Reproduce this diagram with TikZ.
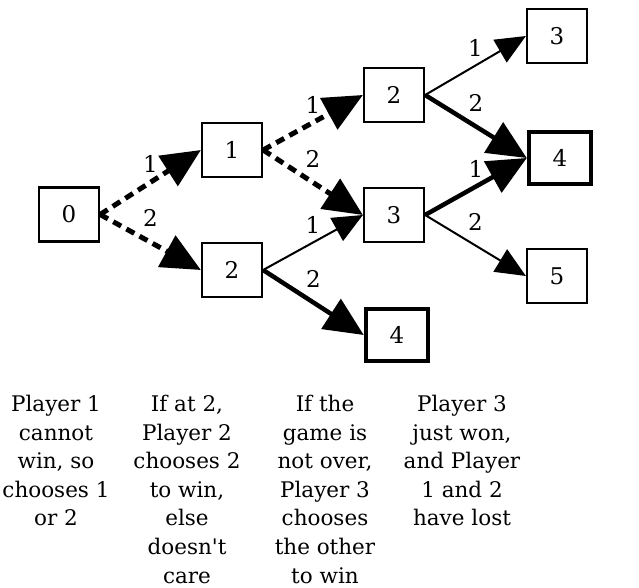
\documentclass[tikz,border=0pt]{standalone}
\usepackage{fontspec}
\setmainfont{DejaVu Serif}
\usetikzlibrary{arrows.meta}
\begin{document}
\begin{tikzpicture}[x=1pt,y=-1pt,
  every node/.style={font=\fontsize{23}{28.6}\selectfont},
  state/.style={draw,line width=2.2pt,minimum width=60pt,minimum height=54pt,inner sep=0pt},
  final/.style={state,line width=4.5pt,minimum width=62pt,minimum height=52pt},
  bigtip/.style={-{Triangle[length=39pt,width=35pt]}},
  smalltip/.style={-{Triangle[length=30pt,width=26pt]}},
  guess/.style={bigtip,line width=5pt,dash pattern=on 9pt off 6pt},
  strong/.style={bigtip,line width=4.5pt},
  weak/.style={smalltip,line width=2pt},
  lup/.style={midway,yshift=18pt,inner sep=0pt},
  ldown/.style={midway,yshift=24pt,inner sep=0pt},
  note/.style={align=center,anchor=north,inner sep=0pt,font=\fontsize{21.5}{28.6}\selectfont}]
\useasboundingbox (0,0) rectangle (639,588);

% game states
\node[state] (s0) at (69,214.5) {0};
\node[state] (a1) at (232,150) {1};
\node[state] (a2) at (232,270) {2};
\node[state] (b2) at (394,95) {2};
\node[state] (b3) at (394,215) {3};
\node[final] (b4) at (397,335) {4};
\node[state] (c3) at (557,36) {3};
\node[final] (c4) at (560,158) {4};
\node[state] (c5) at (557,276) {5};

% moves of player 1
\draw[guess] (s0.east) -- (a1.west) node[lup] {1};
\draw[guess] (s0.east) -- (a2.west) node[ldown] {2};
% moves of player 2
\draw[guess] (a1.east) -- (b2.west) node[lup] {1};
\draw[guess] (a1.east) -- (b3.west) node[ldown] {2};
\draw[weak] (a2.east) -- (b3.west) node[lup] {1};
\draw[strong] (a2.east) -- (b4.west) node[ldown] {2};
% moves of player 3
\draw[weak] (b2.east) -- (c3.west) node[lup] {1};
\draw[strong] (b2.east) -- (c4.west) node[ldown] {2};
\draw[strong] (b3.east) -- (c4.west) node[lup] {1};
\draw[weak] (b3.east) -- (c5.west) node[ldown] {2};

% explanations under each column
\node[note] (n1) at (56,395) {Player 1\\cannot\\win, so\\chooses 1\\or 2};
\node[note] (n2) at (187,395) {If at 2,\\Player 2\\chooses 2\\to win,\\else\\doesn\textquotesingle t\\care};
\node[note] (n3) at (325,395) {If the\\game is\\not over,\\Player 3\\chooses\\the other\\to win};
\node[note] (n4) at (462,395) {Player 3\\just won,\\and Player\\1 and 2\\have lost};
\end{tikzpicture}
\end{document}
